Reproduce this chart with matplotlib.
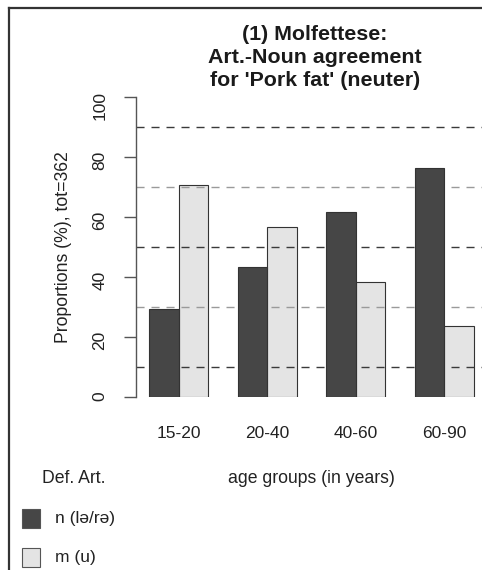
"""Grouped bar chart: Molfettese Art.-Noun agreement by age group"""

import matplotlib
matplotlib.use('Agg')
import matplotlib.pyplot as plt
from matplotlib.patches import Rectangle
from matplotlib.lines import Line2D

plt.rcParams['font.family'] = ['Liberation Sans', 'DejaVu Sans']

# data
age_groups = ['15-20', '20-40', '40-60', '60-90']
n_share = [29.2, 43.2, 61.6, 76.4]   # n (lə/rə)
m_share = [70.8, 56.8, 38.4, 23.6]   # m (u)
ref_lines = [10, 30, 50, 70, 90]
yticks = [0, 20, 40, 60, 80, 100]

W, H = 482, 570
fig = plt.figure(figsize=(W / 100, H / 100), dpi=100, facecolor='w')

def fx(x):
    return x / W

def fy(y):
    return 1 - y / H

# axes placed in pixel terms: y=0 at 397px, y=100 at 97px
ax = fig.add_axes([fx(136), fy(397), fx(482) - fx(136), (300) / H])

dark, light, edge = '#464646', '#e4e4e4', '#333333'
txt = '#222222'

# bar layout like R barplot(beside=TRUE): width 1, one gap between groups
left_n = [1 + 3 * i for i in range(len(age_groups))]
left_m = [p + 1 for p in left_n]
ax.bar(left_m, m_share, width=1, align='edge', color=light,
       edgecolor=edge, linewidth=0.8, zorder=1)
for i, v in enumerate(ref_lines):
    ax.axhline(v, color='#3a3a3a' if i % 2 == 0 else '#9a9a9a', lw=1,
               dashes=(5.8, 5), zorder=2)
ax.bar(left_n, n_share, width=1, align='edge', color=dark,
       edgecolor=edge, linewidth=0.8, zorder=3)

ax.set_xlim(1 + (136 - 149) / 29.5, 1 + (482 - 149) / 29.5)
ax.set_ylim(0, 100)

for s in ['top', 'right', 'bottom']:
    ax.spines[s].set_visible(False)
ax.spines['left'].set_color('#555555')
ax.spines['left'].set_linewidth(1)

ax.set_yticks(yticks)
ax.tick_params(axis='y', length=8.6, width=1, color='#555555', pad=12,
               labelrotation=90, labelsize=12.5, labelcolor=txt)
ax.set_xticks([p + 1 for p in left_n])
ax.set_xticklabels(age_groups)
ax.tick_params(axis='x', length=0, pad=21, labelsize=12.5, labelcolor=txt)

# title, three centred lines
title = ['(1) Molfettese:', 'Art.-Noun agreement', "for 'Pork fat' (neuter)"]
for k, line in enumerate(title):
    fig.text(fx(315), fy(40 + 23 * k), line, ha='center', va='baseline',
             fontsize=15.4, fontweight='bold', color='#1a1a1a')

fig.text(fx(63), fy(247), 'Proportions (%), tot=362', rotation=90,
         ha='center', va='center', fontsize=12.7, color=txt)
fig.text(fx(311), fy(483), 'age groups (in years)', ha='center',
         va='baseline', fontsize=12.7, color=txt)
fig.text(fx(42), fy(483), 'Def. Art.', ha='left', va='baseline',
         fontsize=12.7, color=txt)

# legend keys
for k, (col, lab) in enumerate([(dark, 'n (lə/rə)'), (light, 'm (u)')]):
    y0 = 509 + 39 * k
    fig.patches.append(Rectangle((fx(22), fy(y0 + 19)), 18 / W, 19 / H,
                                 transform=fig.transFigure, facecolor=col,
                                 edgecolor='#555555', linewidth=0.8))
    fig.text(fx(55), fy(y0 + 9.5), lab, ha='left', va='center',
             fontsize=12.5, color=txt)

# frame remnants at top and left
fig.add_artist(Line2D([fx(9), 1], [fy(8), fy(8)], color='#333333', lw=1.6))
fig.add_artist(Line2D([fx(9), fx(9)], [fy(8), 0], color='#333333', lw=1.6))

fig.savefig('out.png', dpi=100, facecolor=fig.get_facecolor())
